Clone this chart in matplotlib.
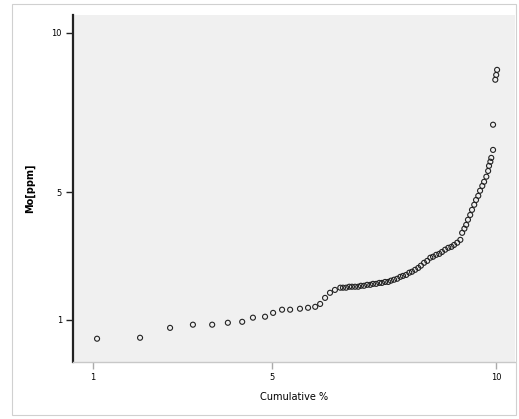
import matplotlib
matplotlib.use('Agg')
import matplotlib.pyplot as plt
from matplotlib.patches import Rectangle

# ── Data ─────────────────────────────────────────────────────────────────────
cum_pct = [1.09, 2.05, 2.72, 3.23, 3.66, 4.01, 4.33, 4.57, 4.84, 5.02,
           5.22, 5.40, 5.62, 5.80, 5.96, 6.07, 6.18, 6.29, 6.40, 6.52,
           6.58, 6.65, 6.72, 6.78, 6.85, 6.92, 6.98, 7.05, 7.12, 7.19,
           7.25, 7.32, 7.39, 7.45, 7.52, 7.59, 7.65, 7.72, 7.79, 7.86,
           7.92, 7.99, 8.06, 8.12, 8.19, 8.26, 8.32, 8.39, 8.46, 8.53,
           8.59, 8.66, 8.73, 8.79, 8.86, 8.93, 9.00, 9.06, 9.13, 9.20,
           9.24, 9.29, 9.33, 9.37, 9.42, 9.46, 9.51, 9.55, 9.60, 9.64,
           9.69, 9.73, 9.78, 9.82, 9.84, 9.87, 9.89, 9.93, 9.93, 9.98,
           10.00, 10.02]
mo_ppm = [0.41, 0.44, 0.75, 0.85, 0.85, 0.91, 0.94, 1.07, 1.10, 1.22,
          1.32, 1.32, 1.35, 1.38, 1.41, 1.50, 1.69, 1.85, 1.94, 2.01,
          2.01, 2.01, 2.04, 2.04, 2.04, 2.04, 2.07, 2.07, 2.10, 2.10,
          2.13, 2.13, 2.16, 2.16, 2.19, 2.19, 2.23, 2.26, 2.29, 2.35,
          2.38, 2.41, 2.48, 2.51, 2.57, 2.63, 2.70, 2.79, 2.85, 2.95,
          2.98, 3.04, 3.07, 3.13, 3.20, 3.26, 3.29, 3.35, 3.42, 3.51,
          3.73, 3.86, 3.98, 4.14, 4.29, 4.45, 4.61, 4.76, 4.89, 5.05,
          5.20, 5.33, 5.49, 5.67, 5.83, 5.96, 6.08, 6.33, 7.12, 8.53,
          8.68, 8.84]

x_ticks = [1, 5, 10]
y_ticks = [1, 5, 10]

# ── Plot ─────────────────────────────────────────────────────────────────────
fig = plt.figure(figsize=(5.19, 4.19), dpi=100)
fig.patches.append(Rectangle((12 / 519, 4 / 419), 504 / 519, 411 / 419,
                             transform=fig.transFigure, fill=False,
                             edgecolor='#d0d0d0', lw=0.8))

ax = fig.add_axes([73 / 519, 57 / 419, 442 / 519, 347 / 419])
ax.set_facecolor('#f0f0f0')

ax.scatter(cum_pct, mo_ppm, s=13, facecolors='none', edgecolors='#222222',
           linewidths=0.8, zorder=3)

ax.set_xlim(0.553, 10.42)
ax.set_ylim(-0.32, 10.56)
ax.set_xticks(x_ticks)
ax.set_yticks(y_ticks)
ax.set_xticklabels([str(v) for v in x_ticks], fontsize=6)
ax.set_yticklabels([str(v) for v in y_ticks], fontsize=6)

for side in ('top', 'right'):
    ax.spines[side].set_visible(False)
ax.spines['left'].set_color('#222222')
ax.spines['left'].set_linewidth(1.6)
ax.spines['bottom'].set_color('#c8c8c8')
ax.spines['bottom'].set_linewidth(1.0)
ax.tick_params(axis='y', length=5, width=1, color='#222222', pad=3)
ax.tick_params(axis='x', length=5, width=1, color='#aaaaaa', pad=3)

ax.set_xlabel('Cumulative %', fontsize=7, labelpad=7)
ax.set_ylabel('Mo[ppm]', fontsize=7, fontweight='bold', labelpad=12)

fig.savefig('out.png', dpi=100)
